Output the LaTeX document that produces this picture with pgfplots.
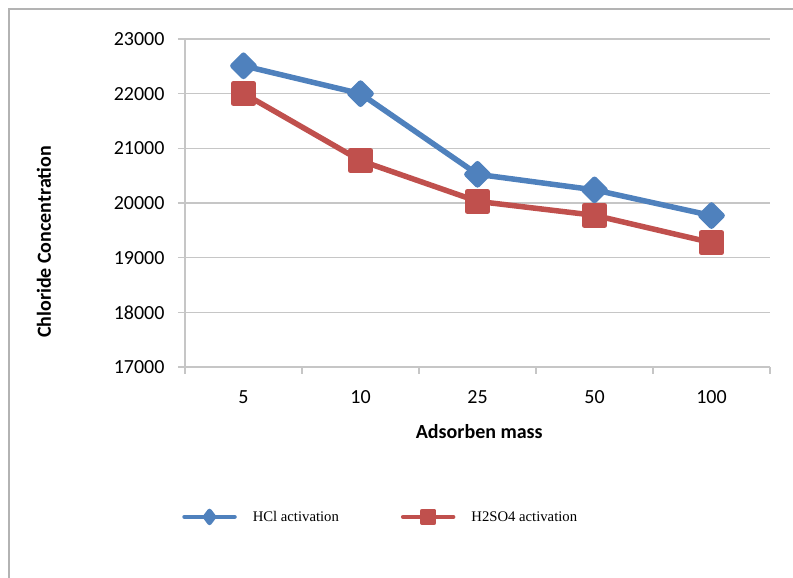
\documentclass[border=0pt]{standalone}
\usepackage{pgfplots}
\pgfplotsset{compat=1.18}
\usepackage{fontspec}
\setmainfont{Liberation Serif}
\newfontfamily\carlito{Carlito}
\definecolor{hclblue}{HTML}{4F81BD}
\definecolor{hsored}{HTML}{C0504D}
\definecolor{gridgray}{HTML}{C6C6C6}
\definecolor{framegray}{HTML}{B3B3B3}
\begin{document}
\begin{tikzpicture}
\useasboundingbox (0,0) rectangle (793pt,578pt);
\draw[framegray, line width=1.8pt] (8.7pt,-5pt) -- (8.7pt,568.7pt) -- (800pt,568.7pt);
\begin{axis}[
  at={(185pt,211pt)}, anchor=south west,
  scale only axis, width=585pt, height=328pt,
  xmin=0.5, xmax=5.5, ymin=17000, ymax=23000,
  xtick={1,2,3,4,5}, xticklabels={5,10,25,50,100},
  minor xtick={0.5,1.5,2.5,3.5,4.5,5.5},
  ytick={17000,18000,...,23000},
  axis x line*=bottom, axis y line*=left,
  axis line style={-, draw=gridgray, line width=1.2pt},
  ymajorgrids, major grid style={draw=gridgray, line width=1.2pt},
  tick align=outside,
  major x tick style={draw=none},
  minor x tick style={draw=gridgray, line width=1.2pt},
  major y tick style={draw=gridgray, line width=1.2pt},
  major tick length=7pt, minor tick length=7pt,
  scaled y ticks=false,
  yticklabel style={/pgf/number format/fixed, /pgf/number format/1000 sep={}, xshift=-10pt},
  xticklabel style={yshift=-13pt},
  /pgf/number format/assume math mode=true,
  tick label style={font=\carlito\fontsize{20}{24}\selectfont, text=black},
  xlabel={Adsorben mass}, ylabel={Chloride Concentration},
  label style={font=\carlito\bfseries\fontsize{20}{24}\selectfont},
  xlabel style={at={(axis description cs:0.503,-0.198)}, anchor=center},
  ylabel style={at={(axis description cs:-0.241,0.381)}, anchor=center},
  legend style={at={(axis description cs:-0.005,-0.457)}, anchor=west, draw=none, fill=none,
    inner sep=0pt, font=\fontsize{14.7}{17}\selectfont, legend columns=2,
    /tikz/every odd column/.append style={column sep=14pt},
    /tikz/every even column/.append style={column sep=60pt}},
  legend cell align=left,
  clip=false,
]
\addplot[hclblue, line width=5.5pt, line join=round, mark=square*, mark size=7.5pt,
  mark options={solid, rotate=45, draw=none, fill=hclblue},
  legend image code/.code={\draw[hclblue, line width=4.5pt, line cap=round, mark=diamond*, mark size=6pt,
    mark repeat=2, mark phase=2, mark options={solid, draw=none, fill=hclblue}]
    plot coordinates {(0pt,0pt) (25pt,0pt) (50pt,0pt)};}]
coordinates {(1,22510) (2,22000) (3,20525) (4,20240) (5,19770)};
\addlegendentry{HCl activation}
\addplot[hsored, line width=5.5pt, line join=round, mark=square*, mark size=10pt,
  mark options={solid, draw=none, fill=hsored},
  legend image code/.code={\draw[hsored, line width=4.5pt, line cap=round, mark=square*, mark size=6pt,
    mark repeat=2, mark phase=2, mark options={solid, draw=none, fill=hsored}]
    plot coordinates {(0pt,0pt) (25pt,0pt) (50pt,0pt)};}]
coordinates {(1,22005) (2,20775) (3,20030) (4,19775) (5,19275)};
\addlegendentry{H2SO4 activation}
\end{axis}
\end{tikzpicture}
\end{document}
